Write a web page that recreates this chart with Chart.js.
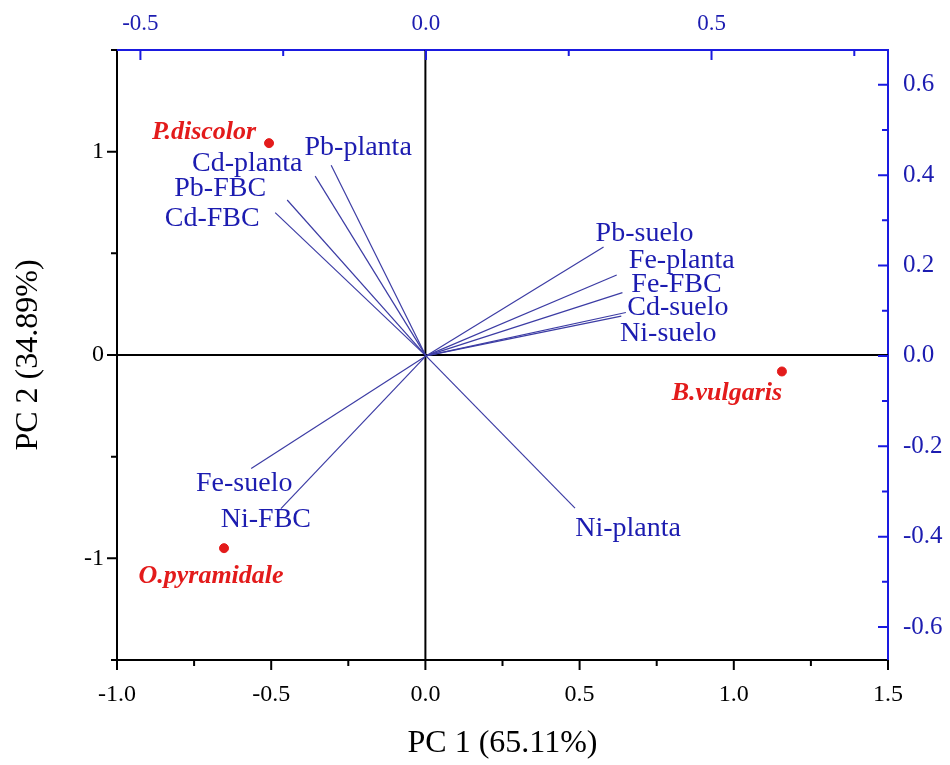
<!DOCTYPE html>
<html>
<head>
<meta charset="utf-8">
<script src="https://cdn.jsdelivr.net/npm/chart.js@4.4.1/dist/chart.umd.min.js"></script>
<style>
  body { margin: 0; background: #fff; }
</style>
</head>
<body>
<canvas id="biplot" width="950" height="765"></canvas>
<script>
// scores (bottom / left axes)
const sites = ['P.discolor', 'B.vulgaris', 'O.pyramidale'];
const sitePC1 = [-0.507, 1.156, -0.653];
const sitePC2 = [1.042, -0.081, -0.950];

// loadings (top / right axes)
const variables = ['Pb-planta', 'Cd-planta', 'Pb-FBC', 'Cd-FBC', 'Pb-suelo', 'Fe-planta',
                   'Fe-FBC', 'Cd-suelo', 'Ni-suelo', 'Fe-suelo', 'Ni-FBC', 'Ni-planta'];
const loadPC1 = [-0.166, -0.194, -0.243, -0.264, 0.311, 0.334, 0.344, 0.350, 0.342, -0.306, -0.254, 0.261];
const loadPC2 = [0.422, 0.398, 0.345, 0.317, 0.241, 0.179, 0.140, 0.096, 0.088, -0.249, -0.338, -0.337];

// tick labels
const pc1Ticks = [-1, -0.5, 0, 0.5, 1, 1.5];
const pc2Ticks = [-1, 0, 1];
const loadXTicks = [-0.5, 0, 0.5];
const loadYTicks = [-0.6, -0.4, -0.2, 0, 0.2, 0.4, 0.6];

// label placement, pixels from the end of each vector / point
const varOffsets = [[27, -18], [-68, -12], [-67, -11], [-63, 6], [41, -13], [65, -14],
                    [54, -8], [52, -5], [47, 17], [-7, 15], [-15, 11], [53, 20]];
const siteOffsets = [[-65, -11], [-55, 22], [-13, 28]];

const BLUE = '#1c1cb0';
const AXIS_BLUE = '#1a1ae0';
const RED = '#e31b1b';
const SERIF = "'Liberation Serif', 'Times New Roman', serif";
Chart.defaults.font.family = SERIF;

const vectorSets = variables.map((v, i) => ({
  type: 'line',
  label: v,
  data: [{x: 0, y: 0}, {x: loadPC1[i], y: loadPC2[i]}],
  xAxisID: 'x2',
  yAxisID: 'y2',
  borderColor: '#3c3ca4',
  borderWidth: 1.2,
  pointRadius: 0,
  fill: false
}));

function minorValues(major, min, max) {
  const out = [];
  const half = (major[1] - major[0]) / 2;
  const first = major[0] - half, last = major[major.length - 1] + half;
  if (first >= min - 1e-9) out.push(first);
  for (let i = 0; i < major.length - 1; i++) out.push((major[i] + major[i + 1]) / 2);
  if (last <= max + 1e-9) out.push(last);
  return out;
}

const zeroLines = {
  id: 'zeroLines',
  beforeDatasetsDraw(chart) {
    const {ctx, chartArea: a, scales} = chart;
    const x0 = scales.x.getPixelForValue(0);
    const y0 = scales.y.getPixelForValue(0);
    ctx.save();
    ctx.strokeStyle = '#000';
    ctx.lineWidth = 2;
    ctx.beginPath();
    ctx.moveTo(x0, a.top); ctx.lineTo(x0, a.bottom);
    ctx.moveTo(a.left, y0); ctx.lineTo(a.right, y0);
    ctx.stroke();
    ctx.restore();
  }
};

const tickMarks = {
  id: 'tickMarks',
  afterDraw(chart) {
    const {ctx, chartArea: a, scales} = chart;
    ctx.save();
    ctx.lineWidth = 2;
    const draw = (scale, major, edge, dir, color) => {
      ctx.strokeStyle = color;
      const horiz = edge === 'top' || edge === 'bottom';
      const base = a[edge];
      const vals = major.map(v => [v, 10]).concat(minorValues(major, scale.min, scale.max).map(v => [v, 6]));
      ctx.beginPath();
      vals.forEach(([v, len]) => {
        const p = scale.getPixelForValue(v);
        if (horiz) { ctx.moveTo(p, base); ctx.lineTo(p, base + dir * len); }
        else { ctx.moveTo(base, p); ctx.lineTo(base + dir * len, p); }
      });
      ctx.stroke();
    };
    draw(scales.x, pc1Ticks, 'bottom', 1, '#000');
    draw(scales.y, pc2Ticks, 'left', -1, '#000');
    draw(scales.x2, loadXTicks, 'top', 1, AXIS_BLUE);
    draw(scales.y2, loadYTicks, 'right', -1, AXIS_BLUE);
    ctx.restore();
  }
};

const pointLabels = {
  id: 'pointLabels',
  afterDatasetsDraw(chart) {
    const {ctx, scales} = chart;
    ctx.save();
    ctx.textAlign = 'center';
    ctx.textBaseline = 'middle';
    ctx.fillStyle = BLUE;
    ctx.font = '28px ' + SERIF;
    variables.forEach((v, i) => {
      const px = scales.x2.getPixelForValue(loadPC1[i]) + varOffsets[i][0];
      const py = scales.y2.getPixelForValue(loadPC2[i]) + varOffsets[i][1];
      ctx.fillText(v, px, py);
    });
    ctx.fillStyle = RED;
    ctx.font = 'italic bold 26px ' + SERIF;
    sites.forEach((s, i) => {
      const px = scales.x.getPixelForValue(sitePC1[i]) + siteOffsets[i][0];
      const py = scales.y.getPixelForValue(sitePC2[i]) + siteOffsets[i][1];
      ctx.fillText(s, px, py);
    });
    ctx.restore();
  }
};

new Chart(document.getElementById('biplot'), {
  type: 'scatter',
  data: {
    datasets: [{
      label: 'Especies',
      data: sites.map((s, i) => ({x: sitePC1[i], y: sitePC2[i]})),
      xAxisID: 'x',
      yAxisID: 'y',
      backgroundColor: RED,
      borderColor: RED,
      pointRadius: 4.5
    }].concat(vectorSets)
  },
  options: {
    responsive: false,
    animation: false,
    layout: { padding: 0 },
    plugins: { legend: { display: false }, tooltip: { enabled: false } },
    scales: {
      x: {
        type: 'linear', position: 'bottom', min: -1, max: 1.5,
        afterBuildTicks: s => { s.ticks = pc1Ticks.map(v => ({value: v})); },
        afterFit: s => { s.height = 105; },
        grid: { display: false, drawTicks: false },
        border: { color: '#000', width: 2 },
        ticks: { padding: 20, color: '#000', font: { size: 24 }, maxRotation: 0, autoSkip: false,
                 callback: v => v.toFixed(1) },
        title: { display: true, text: 'PC 1 (65.11%)', color: '#000', font: { size: 32 },
                 padding: { top: 0, bottom: 2 } }
      },
      y: {
        type: 'linear', position: 'left', min: -1.5, max: 1.5,
        afterBuildTicks: s => { s.ticks = pc2Ticks.map(v => ({value: v})); },
        afterFit: s => { s.width = 117; },
        grid: { display: false, drawTicks: false },
        border: { color: '#000', width: 2 },
        ticks: { padding: 13, color: '#000', font: { size: 24 }, callback: v => String(v) },
        title: { display: true, text: 'PC 2 (34.89%)', color: '#000', font: { size: 32 },
                 padding: { top: 9, bottom: 0 } }
      },
      x2: {
        type: 'linear', position: 'top', min: -0.541, max: 0.809,
        afterBuildTicks: s => { s.ticks = loadXTicks.map(v => ({value: v})); },
        afterFit: s => { s.height = 50; },
        grid: { display: false, drawTicks: false },
        border: { color: AXIS_BLUE, width: 2 },
        ticks: { padding: 12, color: BLUE, font: { size: 23 }, maxRotation: 0, autoSkip: false,
                 callback: v => v.toFixed(1) }
      },
      y2: {
        type: 'linear', position: 'right', min: -0.673, max: 0.677,
        afterBuildTicks: s => { s.ticks = loadYTicks.map(v => ({value: v})); },
        afterFit: s => { s.width = 62; },
        grid: { display: false, drawTicks: false },
        border: { color: AXIS_BLUE, width: 2 },
        ticks: { padding: 15, color: BLUE, font: { size: 25 }, callback: v => v.toFixed(1) }
      }
    }
  },
  plugins: [zeroLines, pointLabels, tickMarks]
});
</script>
</body>
</html>
